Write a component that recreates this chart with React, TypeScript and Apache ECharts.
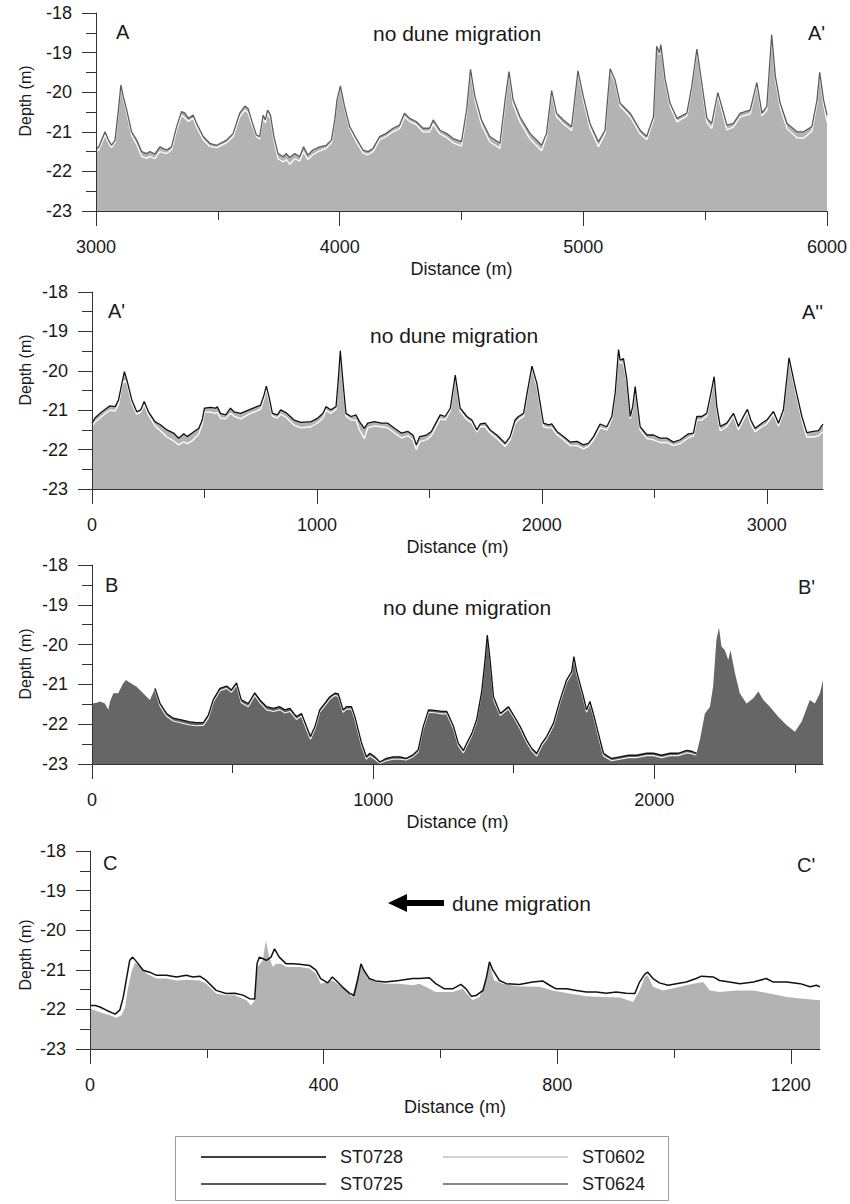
import React, { useEffect, useRef } from "react";
import * as echarts from "echarts";

// ---------------- Panel A – A' (3000–6000 m) ----------------
const aDist = [
  3000, 3012, 3037, 3051, 3064, 3078, 3092, 3102, 3112, 3126,
  3146, 3167, 3187, 3208, 3221, 3242, 3262, 3290, 3310, 3331,
  3351, 3365, 3379, 3399, 3413, 3440, 3467, 3495, 3536, 3563,
  3590, 3611, 3624, 3638, 3658, 3672, 3686, 3695, 3704, 3716,
  3730, 3747, 3768, 3781, 3795, 3816, 3836, 3852, 3869, 3890,
  3918, 3945, 3966, 3980, 3989, 4003, 4020, 4041, 4068, 4096,
  4116, 4137, 4164, 4191, 4219, 4246, 4266, 4287, 4314, 4342,
  4369, 4384, 4411, 4438, 4466, 4500, 4521, 4537, 4555, 4582,
  4616, 4658, 4679, 4695, 4712, 4740, 4781, 4829, 4849, 4870,
  4890, 4918, 4952, 4978, 5000, 5027, 5062, 5089, 5110, 5130,
  5151, 5192, 5233, 5260, 5288, 5301, 5312, 5318, 5336, 5356,
  5384, 5425, 5445, 5466, 5486, 5507, 5527, 5552, 5568, 5589,
  5616, 5644, 5685, 5712, 5733, 5753, 5773, 5788, 5808, 5836,
  5877, 5904, 5938, 5959, 5970, 5986, 6000,
];
const aST0624 = [
  -21.42, -21.38, -21.0, -21.21, -21.34, -21.21, -20.45, -19.82, -20.11, -20.45,
  -21.0, -21.21, -21.5, -21.55, -21.5, -21.56, -21.38, -21.46, -21.38, -20.87,
  -20.49, -20.53, -20.66, -20.58, -20.79, -21.12, -21.29, -21.34, -21.21, -21.04,
  -20.53, -20.35, -20.41, -20.7, -21.08, -21.12, -20.58, -20.7, -20.45, -20.58,
  -21.12, -21.55, -21.63, -21.55, -21.65, -21.55, -21.63, -21.38, -21.59, -21.46,
  -21.38, -21.34, -21.21, -20.7, -20.2, -19.84, -20.36, -20.87, -21.17, -21.46,
  -21.5, -21.42, -21.12, -21.04, -20.91, -20.83, -20.53, -20.66, -20.74, -20.91,
  -20.91, -20.7, -20.96, -21.04, -21.17, -21.25, -20.45, -19.42, -20.11, -20.7,
  -21.12, -21.29, -20.2, -19.48, -20.2, -20.62, -21.04, -21.34, -21.04, -19.96,
  -20.53, -20.7, -20.87, -19.46, -20.11, -20.79, -21.25, -20.96, -19.41, -19.69,
  -20.28, -20.53, -20.96, -21.12, -20.62, -18.84, -19.01, -18.8, -19.69, -20.28,
  -20.66, -20.53, -19.86, -18.91, -19.77, -20.66, -20.79, -20.01, -20.36, -20.83,
  -20.79, -20.53, -20.45, -19.76, -20.53, -20.36, -18.55, -19.6, -20.28, -20.79,
  -21.0, -21.0, -20.87, -20.2, -19.5, -20.2, -20.58,
];
const aST0602 = [
  -21.5, -21.45, -21.08, -21.28, -21.4, -21.27, -20.5, -19.85, -20.15, -20.52,
  -21.08, -21.32, -21.62, -21.67, -21.62, -21.68, -21.5, -21.55, -21.46, -20.95,
  -20.58, -20.65, -20.74, -20.66, -20.88, -21.2, -21.37, -21.4, -21.28, -21.12,
  -20.62, -20.45, -20.52, -20.78, -21.12, -21.18, -20.66, -20.78, -20.52, -20.66,
  -21.2, -21.68, -21.76, -21.7, -21.82, -21.68, -21.74, -21.5, -21.7, -21.58,
  -21.48, -21.42, -21.28, -20.74, -20.24, -19.86, -20.4, -20.92, -21.25, -21.54,
  -21.58, -21.5, -21.2, -21.12, -21.0, -20.92, -20.62, -20.74, -20.82, -21.0,
  -21.0, -20.8, -21.05, -21.14, -21.28, -21.36, -20.55, -19.46, -20.2, -20.82,
  -21.25, -21.42, -20.3, -19.52, -20.3, -20.75, -21.18, -21.48, -21.12, -20.02,
  -20.62, -20.8, -20.97, -19.5, -20.2, -20.9, -21.38, -21.05, -19.45, -19.74,
  -20.35, -20.62, -21.05, -21.2, -20.7, -18.88, -19.05, -18.85, -19.75, -20.35,
  -20.75, -20.6, -19.92, -18.95, -19.85, -20.76, -20.92, -20.08, -20.45, -20.95,
  -20.88, -20.62, -20.55, -19.82, -20.6, -20.45, -18.6, -19.68, -20.38, -20.92,
  -21.15, -21.16, -20.98, -20.28, -19.55, -20.3, -20.75,
];

// ---------------- Panel A' – A'' (0–3250 m) ----------------
const a2Dist = [
  0, 13, 36, 65, 80, 103, 118, 133, 144, 155,
  177, 199, 217, 232, 251, 280, 304, 333, 363, 385,
  408, 423, 445, 475, 490, 500, 527, 549, 557, 571,
  594, 616, 631, 661, 698, 750, 765, 775, 787, 802,
  824, 839, 862, 899, 929, 974, 1004, 1027, 1040, 1062,
  1085, 1095, 1104, 1115, 1129, 1152, 1174, 1189, 1211, 1226,
  1256, 1286, 1315, 1345, 1375, 1405, 1427, 1442, 1457, 1487,
  1509, 1548, 1570, 1593, 1615, 1637, 1667, 1689, 1711, 1726,
  1748, 1770, 1800, 1837, 1859, 1881, 1896, 1919, 1933, 1956,
  1978, 2007, 2030, 2044, 2067, 2096, 2126, 2156, 2185, 2207,
  2230, 2259, 2289, 2311, 2326, 2341, 2348, 2363, 2378, 2393,
  2404, 2415, 2422, 2437, 2467, 2496, 2526, 2556, 2585, 2615,
  2652, 2674, 2689, 2711, 2733, 2753, 2766, 2778, 2793, 2822,
  2852, 2874, 2896, 2914, 2929, 2948, 2978, 3000, 3030, 3052,
  3074, 3099, 3126, 3156, 3178, 3207, 3230, 3250,
];
const a2ST0728 = [
  -21.33, -21.2, -21.08, -20.95, -20.89, -20.91, -20.74, -20.32, -20.02, -20.23,
  -20.74, -21.04, -20.99, -20.78, -21.04, -21.29, -21.37, -21.5, -21.58, -21.71,
  -21.6, -21.67, -21.58, -21.46, -21.25, -20.95, -20.93, -20.95, -20.91, -21.08,
  -21.12, -20.95, -21.04, -21.08, -20.99, -20.87, -20.61, -20.39, -20.66, -21.08,
  -21.12, -20.99, -21.06, -21.25, -21.31, -21.29, -21.2, -21.08, -20.91, -20.99,
  -20.91, -20.23, -19.49, -20.23, -21.08, -21.16, -21.12, -21.29, -21.46, -21.33,
  -21.29, -21.33, -21.33, -21.46, -21.58, -21.54, -21.63, -21.88, -21.67, -21.63,
  -21.54, -21.12, -21.16, -20.95, -20.11, -20.95, -21.16, -21.25, -21.5, -21.35,
  -21.33, -21.5, -21.63, -21.84, -21.67, -21.25, -21.16, -21.08, -20.61, -19.88,
  -20.32, -21.33, -21.37, -21.35, -21.54, -21.67, -21.81, -21.79, -21.88, -21.84,
  -21.67, -21.35, -21.42, -21.16, -20.57, -19.46, -19.73, -19.69, -20.23, -21.16,
  -20.91, -20.4, -20.74, -21.42, -21.63, -21.63, -21.71, -21.71, -21.81, -21.75,
  -21.6, -21.58, -21.16, -21.16, -21.08, -20.53, -20.15, -20.91, -21.41, -21.33,
  -21.08, -21.41, -21.16, -20.98, -21.25, -21.46, -21.33, -21.25, -21.03, -21.33,
  -20.99, -19.67, -20.4, -21.16, -21.57, -21.54, -21.52, -21.35,
];
const a2ST0602 = [
  -21.42, -21.3, -21.2, -21.06, -21.0, -21.02, -20.85, -20.38, -20.25, -20.3,
  -20.82, -21.1, -21.05, -20.85, -21.12, -21.4, -21.52, -21.68, -21.78, -21.88,
  -21.8, -21.85, -21.78, -21.6, -21.35, -21.05, -21.05, -21.08, -21.05, -21.2,
  -21.22, -21.08, -21.15, -21.22, -21.1, -20.98, -20.7, -20.45, -20.75, -21.15,
  -21.2, -21.1, -21.18, -21.38, -21.45, -21.42, -21.32, -21.2, -21.0, -21.08,
  -20.98, -20.28, -19.52, -20.3, -21.15, -21.25, -21.25, -21.5, -21.72, -21.45,
  -21.4, -21.42, -21.45, -21.58, -21.7, -21.65, -21.75, -22.0, -21.8, -21.75,
  -21.65, -21.22, -21.25, -21.02, -20.15, -21.02, -21.25, -21.32, -21.56, -21.42,
  -21.42, -21.58, -21.72, -21.92, -21.75, -21.33, -21.25, -21.15, -20.68, -19.92,
  -20.4, -21.42, -21.45, -21.45, -21.62, -21.75, -21.9, -21.9, -21.98, -21.92,
  -21.75, -21.45, -21.5, -21.22, -20.62, -19.55, -19.8, -19.8, -20.3, -21.22,
  -20.98, -20.45, -20.8, -21.5, -21.72, -21.75, -21.82, -21.82, -21.9, -21.85,
  -21.7, -21.65, -21.25, -21.25, -21.15, -20.6, -20.2, -21.0, -21.52, -21.42,
  -21.15, -21.5, -21.25, -21.05, -21.35, -21.55, -21.42, -21.35, -21.1, -21.4,
  -21.05, -19.72, -20.48, -21.25, -21.68, -21.68, -21.65, -21.55,
];

// ---------------- Panel B – B' (0–2600 m) ----------------
const bDist = [
  0, 17, 28, 46, 58, 64, 76, 93, 111, 121,
  135, 159, 182, 206, 224, 242, 265, 289, 318, 348,
  372, 396, 414, 431, 455, 479, 496, 514, 531, 556,
  579, 597, 621, 645, 668, 686, 704, 727, 745, 763,
  777, 793, 810, 828, 846, 864, 876, 893, 905, 923,
  935, 959, 976, 988, 1006, 1024, 1047, 1071, 1095, 1118,
  1142, 1160, 1178, 1197, 1226, 1244, 1262, 1286, 1303, 1321,
  1333, 1351, 1368, 1386, 1398, 1406, 1416, 1428, 1452, 1481,
  1499, 1523, 1546, 1564, 1582, 1600, 1617, 1641, 1665, 1688,
  1706, 1714, 1724, 1748, 1759, 1771, 1783, 1801, 1819, 1848,
  1878, 1908, 1937, 1973, 1997, 2026, 2056, 2085, 2115, 2133,
  2150, 2162, 2180, 2198, 2209, 2221, 2230, 2239, 2251, 2263,
  2271, 2287, 2304, 2328, 2352, 2370, 2388, 2411, 2441, 2470,
  2500, 2524, 2553, 2571, 2589, 2600,
];
const bST0725 = [
  -21.48, -21.46, -21.43, -21.48, -21.64, -21.43, -21.22, -21.22, -20.97, -20.89,
  -20.96, -21.06, -21.22, -21.39, -21.1, -21.48, -21.73, -21.85, -21.89, -21.94,
  -21.96, -21.96, -21.77, -21.39, -21.1, -21.04, -21.14, -20.96, -21.39, -21.48,
  -21.21, -21.39, -21.56, -21.6, -21.56, -21.64, -21.6, -21.81, -21.73, -22.06,
  -22.31, -22.06, -21.64, -21.48, -21.31, -21.22, -21.24, -21.64, -21.56, -21.56,
  -21.81, -22.48, -22.82, -22.73, -22.82, -22.95, -22.86, -22.82, -22.82, -22.86,
  -22.77, -22.65, -22.06, -21.64, -21.66, -21.68, -21.68, -22.06, -22.48, -22.66,
  -22.48, -22.23, -21.89, -21.18, -20.39, -19.76, -20.39, -21.31, -21.73, -21.56,
  -21.77, -22.06, -22.4, -22.61, -22.73, -22.48, -22.31, -21.98, -21.39, -20.89,
  -20.68, -20.3, -20.68, -21.31, -21.64, -21.43, -21.73, -22.23, -22.73, -22.86,
  -22.82, -22.78, -22.78, -22.73, -22.73, -22.78, -22.73, -22.73, -22.66, -22.68,
  -22.73, -22.4, -21.73, -21.56, -21.06, -19.88, -19.57, -20.05, -20.14, -20.39,
  -20.14, -20.72, -21.22, -21.48, -21.35, -21.18, -21.39, -21.56, -21.81, -22.02,
  -22.19, -21.94, -21.39, -21.48, -21.22, -20.89,
];
const bOther = [
  null, null, null, null, null, null, null, null, null, null,
  null, null, null, null, -21.14, -21.54, -21.8, -21.92, -21.97, -22.02,
  -22.04, -22.03, -21.84, -21.45, -21.16, -21.1, -21.2, -21.02, -21.46, -21.56,
  -21.28, -21.46, -21.64, -21.68, -21.64, -21.72, -21.68, -21.88, -21.8, -22.14,
  -22.38, -22.12, -21.7, -21.54, -21.37, -21.28, -21.3, -21.7, -21.62, -21.62,
  -21.88, -22.55, -22.88, -22.8, -22.88, -22.98, -22.92, -22.88, -22.88, -22.9,
  -22.82, -22.7, -22.12, -21.7, -21.72, -21.74, -21.74, -22.12, -22.54, -22.72,
  -22.54, -22.28, -21.94, -21.22, -20.42, -19.78, -20.45, -21.38, -21.78, -21.62,
  -21.82, -22.12, -22.46, -22.67, -22.8, -22.54, -22.37, -22.04, -21.45, -20.95,
  -20.73, -20.34, -20.74, -21.37, -21.7, -21.49, -21.78, -22.3, -22.8, -22.92,
  -22.88, -22.84, -22.84, -22.79, -22.79, -22.84, -22.79, -22.79, -22.72, -22.74,
  -22.78, null, null, null, null, null, null, null, null, null,
  null, null, null, null, null, null, null, null, null, null,
  null, null, null, null, null, null,
];
const bLineStart = 224;
const bLineEnd = 2150;

// ---------------- Panel C – C' (0–1250 m) ----------------
const cLineDist = [
  0, 9, 17, 28, 43, 51, 57, 63, 68, 73,
  80, 91, 102, 114, 131, 148, 165, 176, 188, 199,
  216, 233, 248, 262, 273, 282, 286, 290, 302, 310,
  316, 324, 336, 347, 359, 376, 387, 395, 407, 415,
  424, 432, 444, 452, 458, 464, 469, 478, 489, 506,
  529, 552, 564, 581, 592, 607, 621, 635, 644, 653,
  661, 673, 679, 684, 690, 701, 713, 735, 758, 775,
  787, 798, 816, 833, 850, 867, 884, 901, 918, 933,
  941, 950, 955, 964, 975, 990, 1004, 1021, 1038, 1047,
  1067, 1078, 1095, 1113, 1136, 1158, 1170, 1193, 1216, 1233,
  1244, 1250,
];
const cST0728 = [
  -21.9, -21.9, -21.94, -22.02, -22.12, -22.02, -21.69, -21.18, -20.76, -20.68,
  -20.8, -21.01, -21.06, -21.14, -21.14, -21.18, -21.14, -21.18, -21.16, -21.27,
  -21.52, -21.6, -21.59, -21.64, -21.73, -21.74, -20.85, -20.68, -20.76, -20.68,
  -20.47, -20.68, -20.85, -20.85, -20.86, -20.89, -21.01, -21.22, -21.33, -21.18,
  -21.31, -21.43, -21.59, -21.65, -21.27, -20.85, -21.01, -21.22, -21.28, -21.31,
  -21.27, -21.22, -21.22, -21.2, -21.35, -21.48, -21.48, -21.37, -21.48, -21.67,
  -21.65, -21.52, -21.18, -20.8, -21.01, -21.27, -21.35, -21.37, -21.31, -21.28,
  -21.39, -21.48, -21.48, -21.52, -21.56, -21.56, -21.59, -21.56, -21.59, -21.6,
  -21.31, -21.11, -21.06, -21.22, -21.33, -21.39, -21.35, -21.31, -21.22, -21.16,
  -21.18, -21.27, -21.31, -21.35, -21.31, -21.22, -21.31, -21.31, -21.35, -21.43,
  -21.39, -21.43,
];
const cFillDist = [
  0, 17, 34, 45, 54, 60, 64, 71, 77, 85,
  97, 114, 131, 148, 165, 188, 199, 216, 233, 248,
  268, 276, 282, 287, 296, 301, 307, 313, 319, 327,
  336, 347, 359, 376, 387, 395, 407, 415, 432, 449,
  458, 466, 475, 489, 506, 529, 552, 564, 592, 621,
  638, 655, 667, 678, 684, 692, 707, 735, 770, 792,
  821, 850, 878, 907, 930, 941, 950, 955, 964, 981,
  1010, 1033, 1050, 1061, 1078, 1107, 1136, 1164, 1193, 1221,
  1250,
];
const cST0602 = [
  -21.98, -22.07, -22.15, -22.21, -22.15, -21.95, -21.55, -21.05, -20.82, -20.89,
  -21.1, -21.22, -21.22, -21.27, -21.25, -21.27, -21.35, -21.6, -21.64, -21.64,
  -21.77, -21.9, -21.77, -20.93, -20.76, -20.26, -20.68, -20.93, -20.85, -20.85,
  -20.93, -20.93, -20.93, -20.97, -21.1, -21.35, -21.31, -21.27, -21.43, -21.69,
  -21.18, -20.89, -21.22, -21.31, -21.35, -21.35, -21.39, -21.35, -21.56, -21.56,
  -21.48, -21.77, -21.69, -21.22, -20.85, -21.27, -21.35, -21.42, -21.43, -21.52,
  -21.6, -21.67, -21.69, -21.7, -21.81, -21.52, -21.18, -21.14, -21.43, -21.52,
  -21.43, -21.35, -21.31, -21.52, -21.56, -21.52, -21.52, -21.6, -21.69, -21.73,
  -21.77,
];

// ---------------- Axes ----------------
const depthTicks = [-23, -22, -21, -20, -19, -18];
const xRanges = [
  [3000, 6000],
  [0, 3250],
  [0, 2600],
  [0, 1250],
];
const xMajor = [
  [3000, 4000, 5000, 6000],
  [0, 1000, 2000, 3000],
  [0, 1000, 2000],
  [0, 400, 800, 1200],
];
const xMinor = [
  [3500, 4500, 5500],
  [500, 1500, 2500],
  [500, 1500, 2500],
  [200, 600, 1000],
];
const legendNames = ["ST0728", "ST0725", "ST0602", "ST0624"];

const FONT = "'Liberation Sans', Arial, Helvetica, sans-serif";
const TXT = "#1a1a1a";
const AXIS = "#333";

const GRIDS = [
  { left: 96, top: 13, width: 731, height: 198 },
  { left: 92, top: 292, width: 731, height: 197 },
  { left: 92, top: 565, width: 731, height: 199 },
  { left: 90, top: 851, width: 730, height: 198 },
];

const pairs = (xs: number[], ys: (number | null)[]) =>
  xs.map((x, i) => [x, ys[i]]).filter((p) => p[1] !== null);

function area(idx: number, data: any[], color: string, name: string) {
  return {
    name,
    type: "line",
    xAxisIndex: idx,
    yAxisIndex: idx,
    data,
    symbol: "none",
    silent: true,
    z: 2,
    lineStyle: { width: 0, opacity: 0 },
    areaStyle: { color, opacity: 1, origin: "start" },
  };
}
function line(idx: number, data: any[], color: string, width: number, z: number, name: string) {
  return {
    name,
    type: "line",
    xAxisIndex: idx,
    yAxisIndex: idx,
    data,
    symbol: "none",
    silent: true,
    z,
    lineStyle: { color, width },
  };
}

function buildOption() {
  const grids: any[] = [];
  const xAxes: any[] = [];
  const yAxes: any[] = [];
  const labelStyle = { fontSize: 18, color: TXT, fontFamily: FONT };
  const plain = (v: number) => String(v);
  GRIDS.forEach((g, i) => {
    grids.push({ ...g, containLabel: false, outerBoundsMode: "none" });
    xAxes.push({
      type: "value",
      gridIndex: i,
      z: 10,
      min: xRanges[i][0],
      max: xRanges[i][1],
      axisLine: { show: true, onZero: false, lineStyle: { color: AXIS, width: 1 } },
      axisTick: { show: true, customValues: xMajor[i], length: 15, lineStyle: { color: AXIS, width: 1 } },
      axisLabel: { show: true, customValues: xMajor[i], margin: 27, formatter: plain, ...labelStyle },
      splitLine: { show: false },
      name: "Distance (m)",
      nameLocation: "middle",
      nameGap: 49,
      nameTextStyle: labelStyle,
    });
    yAxes.push({
      type: "value",
      gridIndex: i,
      z: 10,
      min: -23,
      max: -18,
      interval: 1,
      axisLine: { show: true, onZero: false, lineStyle: { color: AXIS, width: 1 } },
      axisTick: { show: true, length: 14, lineStyle: { color: AXIS, width: 1 } },
      minorTick: { show: true, splitNumber: 2, length: 10, lineStyle: { color: AXIS, width: 1 } },
      axisLabel: { show: true, margin: 24, formatter: plain, ...labelStyle, customValues: depthTicks },
      splitLine: { show: false },
      minorSplitLine: { show: false },
    });
  });
  // overlay grids carrying the half-step ticks of the distance axes
  GRIDS.forEach((g, i) => {
    grids.push({ ...g, containLabel: false, outerBoundsMode: "none" });
    xAxes.push({
      type: "value",
      gridIndex: 4 + i,
      z: 10,
      min: xRanges[i][0],
      max: xRanges[i][1],
      axisLine: { show: false, onZero: false },
      axisTick: { show: true, customValues: xMinor[i], length: 9, lineStyle: { color: AXIS, width: 1 } },
      axisLabel: { show: false },
      splitLine: { show: false },
    });
    yAxes.push({ type: "value", gridIndex: 4 + i, min: -23, max: -18, show: false });
  });

  const series: any[] = [
    // A – A'
    area(0, pairs(aDist, aST0624), "#b3b3b3", "ST0624 fill"),
    line(0, pairs(aDist, aST0602), "#ffffff", 1.3, 3, "ST0602"),
    line(0, pairs(aDist, aST0624), "#5c5c5c", 1.3, 4, "ST0624"),
    // A' – A''
    area(1, pairs(a2Dist, a2ST0728), "#b3b3b3", "ST0728 fill"),
    line(1, pairs(a2Dist, a2ST0602), "#ffffff", 1.3, 3, "ST0602"),
    line(1, pairs(a2Dist, a2ST0728), "#111111", 1.3, 4, "ST0728"),
    // B – B'
    area(2, pairs(bDist, bST0725), "#666666", "ST0725 fill"),
    line(2, pairs(bDist, bOther), "#f2f2f2", 1.1, 3, "ST0602"),
    line(
      2,
      pairs(bDist, bST0725).filter((p) => (p[0] as number) >= bLineStart && (p[0] as number) <= bLineEnd),
      "#111111",
      1.3,
      4,
      "ST0725"
    ),
    // C – C'
    area(3, pairs(cFillDist, cST0602), "#b3b3b3", "ST0602"),
    line(3, pairs(cLineDist, cST0728), "#111111", 1.5, 4, "ST0728"),
  ];

  const t = (text: string, x: number, y: number, size = 20, align = "left", rotation = 0) => ({
    type: "text",
    x,
    y,
    rotation,
    silent: true,
    z: 100,
    style: { text, fill: TXT, fontSize: size, fontFamily: FONT, align, verticalAlign: "middle" },
  });
  const depthCenters = [101, 370, 664, 955];
  const graphics: any[] = [
    ...depthCenters.map((y) => t("Depth (m)", 25, y, 16, "center", Math.PI / 2)),
    t("A", 116, 32),
    t("no dune migration", 373, 33, 21),
    t("A'", 808, 33),
    t("A'", 108, 311),
    t("no dune migration", 370, 335, 21),
    t("A''", 802, 312),
    t("B", 105, 585),
    t("no dune migration", 383, 607, 21),
    t("B'", 798, 587),
    t("C", 103, 863),
    t("dune migration", 452, 903, 21),
    t("C'", 797, 865),
    // arrow pointing left (direction of migration)
    {
      type: "polygon",
      silent: true,
      z: 100,
      shape: { points: [[388, 903], [407, 894], [407, 912]] },
      style: { fill: "#000" },
    },
    { type: "rect", silent: true, z: 100, shape: { x: 405, y: 900, width: 39, height: 6 }, style: { fill: "#000" } },
    // legend box
    {
      type: "rect",
      silent: true,
      z: 100,
      shape: { x: 175.5, y: 1136.5, width: 493, height: 64 },
      style: { fill: "#fff", stroke: "#9a9a9a", lineWidth: 1 },
    },
  ];
  const legendColors = ["#000000", "#222222", "#c4c4c4", "#5c5c5c"];
  const legendPos = [
    [201, 1157],
    [201, 1184],
    [443, 1157],
    [443, 1184],
  ];
  legendNames.forEach((n, i) => {
    const [lx, ly] = legendPos[i];
    graphics.push({
      type: "line",
      silent: true,
      z: 101,
      shape: { x1: lx, y1: ly, x2: lx + 125, y2: ly },
      style: { stroke: legendColors[i], lineWidth: 1.5 },
    });
    graphics.push(t(n, lx + 139, ly, 18));
  });

  return {
    animation: false,
    backgroundColor: "#ffffff",
    grid: grids,
    xAxis: xAxes,
    yAxis: yAxes,
    series,
    graphic: graphics,
  };
}

export default function App() {
  const ref = useRef<HTMLDivElement>(null);
  useEffect(() => {
    if (!ref.current) return;
    const chart = echarts.init(ref.current, null, { renderer: "svg" });
    chart.setOption(buildOption() as any);
    return () => chart.dispose();
  }, []);
  return (
    <div
      ref={ref}
      style={{ position: "absolute", left: 0, top: 0, width: 850, height: 1204, background: "#fff" }}
    />
  );
}
